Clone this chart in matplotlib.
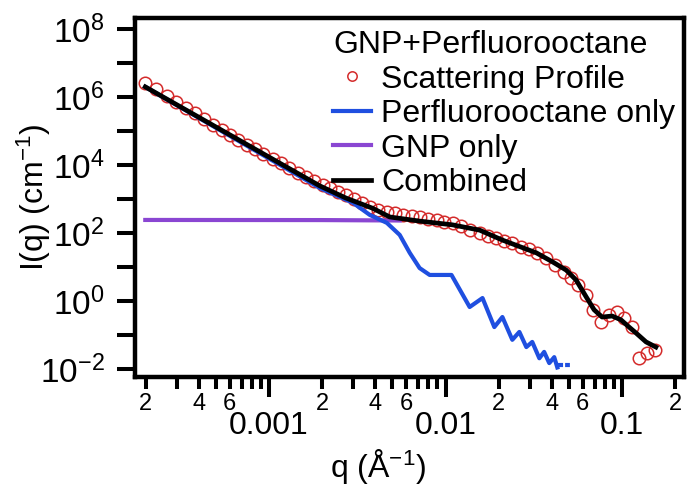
#!/usr/bin/env python3
"""
SANS profile of GNP + perfluorooctane with the two model contributions
(perfluorooctane only, GNP only) and their combined fit, log-log axes.

Output: out.png (688 x 486 px).
"""

import numpy as np
import matplotlib
matplotlib.use("Agg")
import matplotlib.pyplot as plt
from matplotlib.ticker import LogLocator, FuncFormatter, NullLocator


# ---------------------------------------------------------------------------
# Data
# ---------------------------------------------------------------------------

# measured scattering profile (open circles)
Q_EXP = [
    1.99e-4, 2.30e-4, 2.65e-4, 2.99e-4, 3.40e-4, 3.82e-4, 4.30e-4, 4.83e-4,
    5.42e-4, 6.03e-4, 6.68e-4, 7.52e-4, 8.34e-4, 9.25e-4, 1.054e-3, 1.17e-3,
    1.30e-3, 1.46e-3, 1.62e-3, 1.79e-3, 2.02e-3, 2.21e-3, 2.45e-3, 2.72e-3,
    3.02e-3, 3.35e-3, 3.72e-3, 4.13e-3, 4.65e-3, 5.15e-3, 5.71e-3, 6.43e-3,
    7.13e-3, 7.91e-3, 8.89e-3, 9.86e-3, 1.096e-2, 1.23e-2, 1.37e-2,
    1.56e-2, 1.73e-2, 1.94e-2, 2.15e-2, 2.39e-2, 2.69e-2, 2.99e-2, 3.31e-2,
    3.72e-2, 4.18e-2, 4.70e-2, 5.15e-2, 5.64e-2, 6.27e-2, 6.85e-2, 7.60e-2,
    8.45e-2, 9.38e-2, 0.1026, 0.1138, 0.1247, 0.1384, 0.1535,
]
I_EXP = [
    2.63e6, 1.68e6, 1.09e6, 7.28e5, 4.84e5, 3.32e5, 2.20e5, 1.49e5,
    1.07e5, 7.64e4, 5.45e4, 3.88e4, 2.90e4, 2.07e4, 1.47e4, 1.12e4,
    8.34e3, 5.94e3, 4.53e3, 3.45e3, 2.58e3, 2.07e3, 1.64e3, 1.31e3,
    995, 769, 581, 470, 419, 390, 340, 316,
    295, 256, 239, 213, 198, 161, 124,
    100, 81.7, 71.0, 58.9, 51.2, 38.6, 33.6, 26.0,
    18.3, 11.5, 7.19, 4.72, 2.96, 1.50, 0.552, 0.244,
    0.389, 0.481, 0.316, 0.171, 0.0207, 0.0294, 0.0363,
]

# perfluorooctane-only model (gaps where the curve breaks up)
Q_PFO = [
    1.99e-4, 1.94e-3, 2.99e-3, 3.72e-3, 4.65e-3, 5.50e-3, 6.27e-3, 7.13e-3,
    8.13e-3, 1.081e-2, 1.37e-2, 1.62e-2, 1.89e-2, 2.10e-2, 2.39e-2, 2.62e-2,
    2.87e-2, 3.10e-2, 3.40e-2, 3.62e-2, 3.87e-2, 4.13e-2, 4.30e-2,
    np.nan, 4.47e-2, 4.51e-2, np.nan, 4.89e-2, 4.93e-2,
]
I_PFO = [
    1.97e6, 2.10e3, 769, 340, 198, 87.5, 26.0, 9.29,
    5.82, 5.82, 0.664, 1.22, 0.171, 0.337, 0.0721, 0.123,
    0.0441, 0.0625, 0.0207, 0.0318, 0.0149, 0.0223, 0.0111,
    np.nan, 0.0131, 0.0131, np.nan, 0.0131, 0.0131,
]

# GNP-only model
Q_GNP = [1.99e-4, 2.0e-3, 5.5e-3]
I_GNP = [241, 239, 232]

# combined model
Q_FIT = [
    1.99e-4, 1.94e-3, 2.72e-3, 3.87e-3, 4.83e-3, 7.13e-3, 1.096e-2, 1.56e-2,
    2.10e-2, 3.27e-2, 4.03e-2, 4.83e-2, 5.50e-2, 6.27e-2, 6.95e-2, 7.71e-2,
    8.79e-2, 9.86e-2, 0.1096, 0.1199, 0.1368, 0.1556,
]
I_FIT = [
    1.97e6, 2.42e3, 1.07e3, 530, 295, 223, 173, 121,
    61.7, 26.0, 14.2, 8.07, 4.10, 1.31, 0.550, 0.337,
    0.361, 0.279, 0.171, 0.115, 0.0625, 0.0441,
]

Q_LIM = (1.74e-4, 0.2245)
I_LIM = (5.82e-3, 2.09e8)

COR_EXP = "#d42b2b"
COR_PFO = "#1f4fe0"
COR_GNP = "#8a46d2"
COR_FIT = "#000000"


def _rc():
    return {
        "font.family": ["Liberation Sans", "DejaVu Sans"],
        "mathtext.fontset": "custom",
        "mathtext.rm": "Liberation Sans",
        "mathtext.it": "Liberation Sans:italic",
        "mathtext.bf": "Liberation Sans:bold",
        "axes.linewidth": 3.2,
    }


def _fmt_y(v, pos):
    e = int(round(np.log10(v)))
    if e % 2:
        return ""
    return r"$\mathregular{10^{%d}}$" % e


def _fmt_x_major(v, pos):
    return f"{v:g}"


def _fmt_x_minor(v, pos):
    m = int(round(v / 10 ** np.floor(np.log10(v) + 1e-9)))
    return str(m) if m in (2, 4, 6) else ""


def main():
    with plt.rc_context(_rc()):
        fig = plt.figure(figsize=(6.88, 4.86), dpi=100)
        ax = fig.add_axes([0.1962, 0.2243, 0.7980, 0.7387])

        h_exp, = ax.plot(Q_EXP, I_EXP, ls="none", marker="o", ms=9.0,
                         mfc="none", mec=COR_EXP, mew=1.1,
                         label="Scattering Profile", zorder=2)
        h_gnp, = ax.plot(Q_GNP, I_GNP, color=COR_GNP, lw=3.0,
                         label="GNP only", zorder=3)
        h_pfo, = ax.plot(Q_PFO, I_PFO, color=COR_PFO, lw=3.0,
                         label="Perfluorooctane only", zorder=4)
        h_fit, = ax.plot(Q_FIT, I_FIT, color=COR_FIT, lw=3.4,
                         label="Combined", zorder=5)

        ax.set_xscale("log")
        ax.set_yscale("log")
        ax.set_xlim(*Q_LIM)
        ax.set_ylim(*I_LIM)

        # y: a tick every decade, label every second one
        ax.yaxis.set_major_locator(LogLocator(base=10, subs=(1.0,), numticks=20))
        ax.yaxis.set_major_formatter(FuncFormatter(_fmt_y))
        ax.yaxis.set_minor_locator(NullLocator())
        ax.tick_params(axis="y", which="major", direction="out", length=13,
                       width=2.9, labelsize=24, pad=9)

        # x: decades labelled underneath, 2/4/6 as small minor labels
        ax.xaxis.set_major_locator(LogLocator(base=10, subs=(1.0,), numticks=20))
        ax.xaxis.set_major_formatter(FuncFormatter(_fmt_x_major))
        ax.xaxis.set_minor_locator(LogLocator(base=10, subs=np.arange(2, 10),
                                              numticks=20))
        ax.xaxis.set_minor_formatter(FuncFormatter(_fmt_x_minor))
        ax.tick_params(axis="x", which="major", direction="out", length=14.4,
                       width=2.9, labelsize=23, pad=10)
        ax.tick_params(axis="x", which="minor", direction="out", length=8.4,
                       width=2.9, labelsize=17, pad=3)

        ax.set_xlabel(r"q (Å$\mathregular{^{-1}}$)", fontsize=23)
        ax.set_ylabel(r"I(q) (cm$\mathregular{^{-1}}$)", fontsize=23)
        ax.xaxis.set_label_coords(0.443, -0.195)
        ax.yaxis.set_label_coords(-0.149, 0.5)

        ax.legend(
            handles=[h_exp, h_pfo, h_gnp, h_fit],
            title="GNP+Perfluorooctane",
            loc="upper right",
            bbox_to_anchor=(0.9836, 0.966),
            frameon=False,
            fontsize=23,
            title_fontsize=23,
            alignment="left",
            borderpad=0,
            borderaxespad=0,
            labelspacing=0.14,
            handlelength=1.2,
            handletextpad=0.3,
            markerscale=0.75,
        )

        fig.savefig("out.png", dpi=100)
        plt.close(fig)


if __name__ == "__main__":
    main()
